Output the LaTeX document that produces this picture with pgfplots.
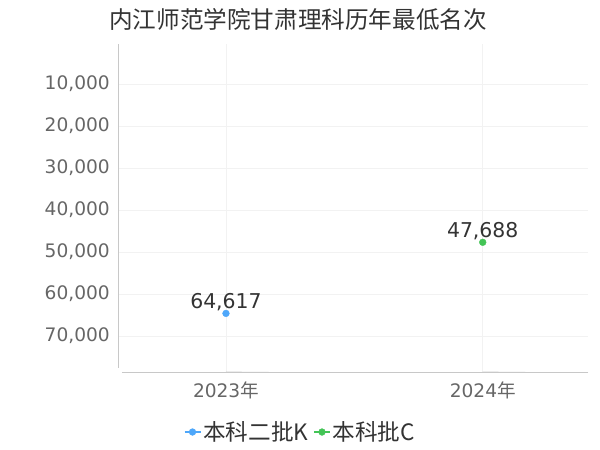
\documentclass[border=0pt]{standalone}
\usepackage{fontspec}
\setmainfont{DejaVu Sans}
\newfontfamily\cjk{Noto Sans CJK SC}
\usepackage{pgfplots}
\pgfplotsset{compat=1.18}

\definecolor{ptblue}{RGB}{78,167,250}
\definecolor{ptgreen}{RGB}{67,196,86}
\definecolor{tickcol}{RGB}{102,102,102}
\definecolor{textcol}{RGB}{51,51,51}
\definecolor{gridcol}{RGB}{242,242,242}
\definecolor{axcol}{RGB}{200,200,200}

\begin{document}
\begin{tikzpicture}
\path[use as bounding box] (0,0) rectangle (600bp,450bp);
\node[font=\cjk\fontsize{23.6bp}{27bp}\selectfont, text=textcol, inner sep=0pt]
  at (298bp,431bp) {内江师范学院甘肃理科历年最低名次};
\begin{axis}[
  at={(118bp,78bp)}, anchor=south west,
  scale only axis, width=470bp, height=328bp,
  xmin=-0.4205, xmax=1.41,
  ymin=476, ymax=78571, y dir=reverse,
  axis line style={draw=none},
  xtick={0,1},
  xticklabels={2023{\cjk 年},2024{\cjk 年}},
  ytick={10000,20000,30000,40000,50000,60000,70000},
  scaled y ticks=false,
  major tick length=0pt,
  grid=major,
  major grid style={gridcol, line width=0.8bp},
  /pgf/number format/assume math mode=true,
  /pgf/number format/1000 sep={,},
  yticklabel style={font=\fontsize{18.6bp}{22bp}\selectfont, text=tickcol, anchor=east, inner sep=0pt, xshift=-8bp},
  xticklabel style={font=\fontsize{18.6bp}{22bp}\selectfont, text=tickcol, anchor=north, inner sep=0pt, yshift=-10bp},
  legend style={at={(0.388,-0.183)}, anchor=center, draw=none, fill=none,
    font=\cjk\fontsize{22.6bp}{26bp}\selectfont, text=textcol, inner sep=0pt,
    /tikz/every even column/.append style={column sep=3bp}},
  legend columns=-1,
  legend image code/.code={
    \draw[#1, line width=1.5bp] (0bp,0bp) -- (16bp,0bp);
    \fill[#1] (8bp,0bp) circle (3.4bp);
  },
  nodes near coords,
  every node near coord/.style={font=\fontsize{20.4bp}{24bp}\selectfont, text=textcol, anchor=base, inner sep=0pt, yshift=4.5bp},
]
\addlegendimage{color=ptblue}
\addlegendentry{本科二批K}
\addlegendimage{color=ptgreen}
\addlegendentry{本科批C}

\addplot[forget plot, only marks, mark=*, mark size=3.4bp, color=ptblue] coordinates {(0,64617)};
\addplot[forget plot, only marks, mark=*, mark size=3.4bp, color=ptgreen] coordinates {(1,47688)};

\draw[axcol, line width=0.8bp] (axis cs:-0.4205,476) -- (axis cs:-0.4205,77619);
\draw[axcol, line width=0.8bp] (axis cs:-0.405,78571) -- (axis cs:1.41,78571);
\draw[axcol, line width=0.8bp] (axis cs:0,78571) -- ++(0,-3bp);
\draw[axcol, line width=0.8bp] (axis cs:1,78571) -- ++(0,-3bp);
\end{axis}
\end{tikzpicture}
\end{document}
